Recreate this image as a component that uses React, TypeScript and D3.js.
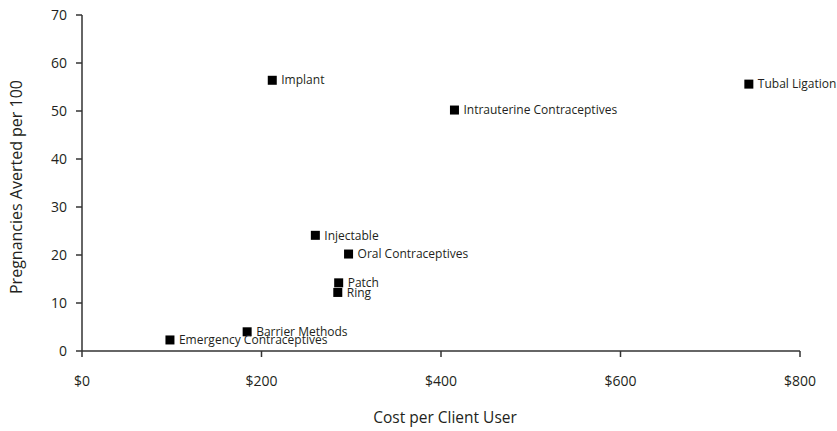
import React from "react";
import * as d3 from "d3";

const methods = [
  "Implant",
  "Intrauterine Contraceptives",
  "Tubal Ligation",
  "Injectable",
  "Oral Contraceptives",
  "Patch",
  "Ring",
  "Barrier Methods",
  "Emergency Contraceptives",
];
const costs = [212, 415, 743, 260, 297, 286, 285, 184, 98];
const averted = [56.4, 50.2, 55.6, 24.1, 20.2, 14.2, 12.2, 4.0, 2.3];
const xTicks = [0, 200, 400, 600, 800];
const yTicks = [0, 10, 20, 30, 40, 50, 60, 70];

const W = 837;
const H = 431;
const FONT = "'Open Sans', sans-serif";
const INK = "#231f20";
const AXIS = "#333";

export default function App() {
  const x = d3.scaleLinear().domain([0, 800]).range([82, 800]);
  const y = d3.scaleLinear().domain([0, 70]).range([351, 15]);
  const size = 9;

  return (
    <div style={{ position: "absolute", left: 0, top: 0, width: W, height: H, background: "#fff" }}>
      <svg width={W} height={H} style={{ display: "block", overflow: "hidden" }} fontFamily={FONT}>
        <rect width={W} height={H} fill="#fff" />
        {/* axes */}
        <line x1={x(0)} x2={x(0)} y1={y(70)} y2={y(0)} stroke={AXIS} strokeWidth={1.5} />
        <line x1={x(0)} x2={x(800)} y1={y(0)} y2={y(0)} stroke={AXIS} strokeWidth={1.5} />
        {yTicks.map((t) => (
          <g key={"y" + t}>
            <line x1={x(0) - 6} x2={x(0)} y1={y(t)} y2={y(t)} stroke={AXIS} strokeWidth={1.5} />
            <text x={x(0) - 15} y={y(t)} dy="0.36em" textAnchor="end" fontSize={14} fill={INK}>
              {t}
            </text>
          </g>
        ))}
        {xTicks.map((t) => (
          <g key={"x" + t}>
            <line x1={x(t)} x2={x(t)} y1={y(0)} y2={y(0) + 6} stroke={AXIS} strokeWidth={1.5} />
            <text x={x(t)} y={386} textAnchor="middle" fontSize={14} fill={INK}>
              {"$" + d3.format(",")(t)}
            </text>
          </g>
        ))}
        <text x={445} y={423} textAnchor="middle" fontSize={15.5} fill={INK}>
          Cost per Client User
        </text>
        <text
          transform={`translate(22,187) rotate(-90)`}
          textAnchor="middle"
          fontSize={16}
          fill={INK}
        >
          Pregnancies Averted per 100
        </text>
        {/* points */}
        {methods.map((m, i) => (
          <g key={m}>
            <rect
              x={x(costs[i]) - size / 2}
              y={y(averted[i]) - size / 2}
              width={size}
              height={size}
              fill="#000"
            />
            <text x={x(costs[i]) + 9} y={y(averted[i])} dy="0.35em" fontSize={12} fill={INK}>
              {m}
            </text>
          </g>
        ))}
      </svg>
    </div>
  );
}
